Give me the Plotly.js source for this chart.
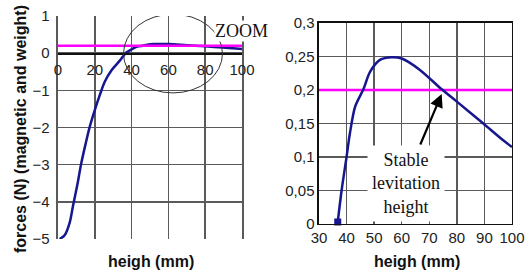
<!DOCTYPE html>
<html>
<head>
<meta charset="utf-8">
<script src="https://cdn.plot.ly/plotly-3.0.1.min.js"></script>
<style>html,body{margin:0;padding:0;background:#fff}#chart{width:532px;height:275px}</style>
</head>
<body>
<div id="chart"></div>
<script>
// Full-range force curve (left chart)
const heightFull = [0.9, 3.6, 6.4, 8.2, 10.4, 12.7, 15.1, 17.3, 20, 22.7, 25.4, 29.1, 33.6, 36.8, 38.2, 40.0, 41.2, 43.1, 46.1, 48.5, 52.1, 56.4, 60, 66.6, 74.5, 79.9, 89.6, 96.8, 100];
const forceFull  = [-5, -4.9, -4.55, -4.1, -3.57, -2.95, -2.42, -1.97, -1.53, -1.13, -0.77, -0.46, -0.2, 0.003, 0.05, 0.10, 0.135, 0.175, 0.201, 0.227, 0.245, 0.249, 0.247, 0.23, 0.201, 0.183, 0.150, 0.125, 0.115];
// Zoomed curve (right chart)
const heightZoom = [36.8, 38.2, 40.0, 41.2, 43.1, 46.1, 48.5, 52.1, 56.4, 60, 66.6, 74.5, 79.9, 89.6, 96.8, 100];
const forceZoom  = [0.003, 0.05, 0.10, 0.135, 0.175, 0.201, 0.227, 0.245, 0.249, 0.247, 0.23, 0.201, 0.183, 0.150, 0.125, 0.115];
// Weight line
const weightX = [0, 100];
const weightY = [0.2, 0.2];
const weightXZoom = [30, 100];
// Tick values
const leftXTicks = [0, 20, 40, 60, 80, 100];
const leftYTicks = [-5, -4, -3, -2, -1, 0, 1];
const rightXTicks = [30, 40, 50, 60, 70, 80, 90, 100];
const rightYTicks = [0, 0.05, 0.1, 0.15, 0.2, 0.25, 0.3];

const curveColor = '#16168f';
const weightColor = '#ff00ff';
const gridColor = '#5a5a5a';

const traces = [
  {x: heightFull, y: forceFull, xaxis: 'x', yaxis: 'y', mode: 'lines', line: {color: curveColor, width: 2.5, shape: 'spline', smoothing: 0.8}, hoverinfo: 'skip'},
  {x: weightX, y: weightY, xaxis: 'x', yaxis: 'y', mode: 'lines', line: {color: weightColor, width: 2.5}, hoverinfo: 'skip'},
  {x: weightXZoom, y: weightY, xaxis: 'x2', yaxis: 'y2', mode: 'lines', line: {color: weightColor, width: 2.5}, hoverinfo: 'skip'},
  {x: heightZoom, y: forceZoom, xaxis: 'x2', yaxis: 'y2', mode: 'lines', line: {color: curveColor, width: 2.5, shape: 'spline', smoothing: 0.8}, hoverinfo: 'skip', cliponaxis: false},
  {x: heightZoom.slice(0, 1), y: forceZoom.slice(0, 1), xaxis: 'x2', yaxis: 'y2', mode: 'markers', marker: {symbol: 'square', size: 7, color: curveColor}, hoverinfo: 'skip', cliponaxis: false}
];

const tickFont = {family: 'Liberation Sans, Arial, sans-serif', size: 15, color: '#222'};
const titleFont = {family: 'Liberation Sans, Arial, sans-serif', size: 16, color: '#111', weight: 'bold'};
const serifFont = {family: 'Liberation Serif, Times New Roman, serif', size: 18, color: '#111'};

const lyDom = [0.1309, 0.9418];
const layout = {
  width: 532, height: 275,
  margin: {l: 0, r: 0, t: 0, b: 0},
  paper_bgcolor: '#fff', plot_bgcolor: '#fff',
  showlegend: false,
  separators: ', ',
  xaxis: {
    domain: [0.1090, 0.4549], range: [0, 100], tickvals: leftXTicks,
    anchor: 'free', position: lyDom[0] + (lyDom[1] - lyDom[0]) * 5 / 6,
    showgrid: true, gridcolor: gridColor, gridwidth: 1.5,
    showline: true, linecolor: '#111', linewidth: 1.5,
    zeroline: false, ticks: '', tickfont: tickFont, ticklabelstandoff: 2, fixedrange: true
  },
  yaxis: {
    domain: lyDom, range: [-5, 1], tickvals: leftYTicks, anchor: 'x',
    showgrid: true, gridcolor: gridColor, gridwidth: 1.5,
    showline: true, mirror: true, linecolor: gridColor, linewidth: 1.5,
    zeroline: false, ticks: '', tickfont: tickFont, ticklabelstandoff: 4, fixedrange: true
  },
  xaxis2: {
    domain: [0.5996, 0.9624], range: [30, 100], tickvals: rightXTicks, anchor: 'y2',
    showgrid: true, gridcolor: gridColor, gridwidth: 1.5,
    showline: true, mirror: true, linecolor: '#111', linewidth: 1.5,
    zeroline: false, ticks: '', tickfont: tickFont, fixedrange: true
  },
  yaxis2: {
    domain: [0.1855, 0.9164], range: [0, 0.3], tickvals: rightYTicks, anchor: 'x2',
    showgrid: true, gridcolor: gridColor, gridwidth: 1.5,
    showline: true, mirror: true, linecolor: '#111', linewidth: 1.5,
    zeroline: false, ticks: '', tickfont: tickFont, fixedrange: true
  },
  shapes: [
    {type: 'circle', xref: 'x', yref: 'y', x0: 35.6, x1: 89.4, y0: -1.07, y1: 1.05,
     line: {color: '#333', width: 1}, layer: 'above'}
  ],
  annotations: [
    {text: 'forces (N) (magnetic and weight)', xref: 'paper', yref: 'paper', x: 20 / 532, y: 1 - 129 / 275,
     textangle: -90, showarrow: false, font: titleFont, xanchor: 'center', yanchor: 'middle'},
    {text: 'heigh (mm)', xref: 'paper', yref: 'paper', x: 151 / 532, y: 1 - 261 / 275,
     showarrow: false, font: titleFont, xanchor: 'center', yanchor: 'middle'},
    {text: 'heigh (mm)', xref: 'paper', yref: 'paper', x: 417 / 532, y: 1 - 261 / 275,
     showarrow: false, font: titleFont, xanchor: 'center', yanchor: 'middle'},
    {text: 'ZOOM', xref: 'paper', yref: 'paper', x: 241.5 / 532, y: 1 - 31.5 / 275,
     showarrow: false, font: serifFont, xanchor: 'center', yanchor: 'middle', bgcolor: '#fff', borderpad: 0},
    {text: 'Stable<br>levitation<br>height', xref: 'x2', yref: 'y2', x: 61.7, y: 0.061,
     showarrow: false, font: serifFont, xanchor: 'center', yanchor: 'middle', bgcolor: '#fff', borderpad: 4},
    {text: '', xref: 'x2', yref: 'y2', x: 74.5, y: 0.194, ax: -22, ay: 52,
     showarrow: true, arrowhead: 2, arrowsize: 1.2, arrowwidth: 2.2, arrowcolor: '#000'}
  ]
};

Plotly.newPlot('chart', traces, layout, {displayModeBar: false, staticPlot: true});
</script>
</body>
</html>
